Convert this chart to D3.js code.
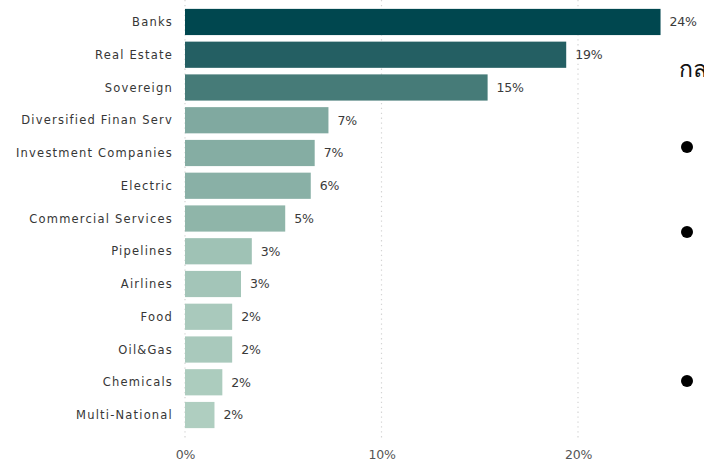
<!DOCTYPE html>
<html>
<head>
<meta charset="utf-8">
<script src="https://cdn.jsdelivr.net/npm/d3@7"></script>
<style>
  body { margin: 0; background: #fff; overflow: hidden; }
  svg { display: block; }
  .cat { font-family: "DejaVu Sans", sans-serif; font-size: 11.5px; fill: #363636; letter-spacing: 1.2px; }
  .val { font-family: "DejaVu Sans", sans-serif; font-size: 12.5px; fill: #3a3a3a; letter-spacing: -0.2px; }
  .tick text { font-family: "DejaVu Sans", sans-serif; font-size: 12.5px; fill: #555; letter-spacing: -0.2px; }
</style>
</head>
<body>
<svg id="chart" width="704" height="463"></svg>
<script>
const categories = ["Banks", "Real Estate", "Sovereign", "Diversified Finan Serv", "Investment Companies",
  "Electric", "Commercial Services", "Pipelines", "Airlines", "Food", "Oil&Gas", "Chemicals", "Multi-National"];
const values = [0.242, 0.194, 0.154, 0.073, 0.066, 0.064, 0.051, 0.034, 0.0285, 0.024, 0.024, 0.019, 0.015];
const valueLabels = ["24%", "19%", "15%", "7%", "7%", "6%", "5%", "3%", "3%", "2%", "2%", "2%", "2%"];
const barColors = ["#00474f", "#245f63", "#467b78", "#80a9a0", "#85ada3", "#89b0a6", "#8fb5a9",
  "#9fc2b5", "#a3c5b8", "#a9c9bc", "#a9c9bc", "#acccbe", "#afcec0"];
const xTicks = [0, 0.1, 0.2];

const svg = d3.select("#chart");
const data = categories.map((c, i) => ({ cat: c, value: values[i], label: valueLabels[i], color: barColors[i] }));

const x = d3.scaleLinear().domain([0, 0.2]).range([185, 578]);
const y = d3.scaleBand().domain(categories).range([5.6, 431.4]).paddingInner(0.2).paddingOuter(0.1);

// dotted gridlines
svg.append("g").selectAll("line")
  .data(xTicks)
  .join("line")
  .attr("x1", d => x(d)).attr("x2", d => x(d))
  .attr("y1", 0).attr("y2", 441)
  .attr("stroke", "#d4d4d4")
  .attr("stroke-width", 1.2)
  .attr("stroke-dasharray", "1.3,3.6");

// x axis labels only
const xAxis = d3.axisBottom(x).tickValues(xTicks).tickFormat(d3.format(".0%")).tickSize(0).tickPadding(0);
svg.append("g")
  .attr("transform", "translate(0,450)")
  .call(xAxis)
  .call(g => g.select(".domain").remove())
  .selectAll("text").attr("dy", "0.71em");

// bars
svg.append("g").selectAll("rect")
  .data(data)
  .join("rect")
  .attr("x", x(0))
  .attr("y", d => y(d.cat))
  .attr("width", d => x(d.value) - x(0))
  .attr("height", y.bandwidth())
  .attr("fill", d => d.color);

// category labels
svg.append("g").selectAll("text")
  .data(data)
  .join("text")
  .attr("class", "cat")
  .attr("x", 173)
  .attr("y", d => y(d.cat) + y.bandwidth() / 2)
  .attr("dy", "0.35em")
  .attr("text-anchor", "end")
  .text(d => d.cat);

// value labels
svg.append("g").selectAll("text")
  .data(data)
  .join("text")
  .attr("class", "val")
  .attr("x", d => x(d.value) + 9)
  .attr("y", d => y(d.cat) + y.bandwidth() / 2)
  .attr("dy", "0.35em")
  .text(d => d.label);

// slide text cut off at right edge
svg.append("text")
  .attr("x", 679).attr("y", 77)
  .attr("font-family", "Noto Sans, sans-serif")
  .attr("font-size", 23)
  .attr("fill", "#111")
  .text("กล");

const bulletY = [147, 232, 381];
svg.append("g").selectAll("circle")
  .data(bulletY)
  .join("circle")
  .attr("cx", 687).attr("cy", d => d)
  .attr("r", 6)
  .attr("fill", "#000");
</script>
</body>
</html>
